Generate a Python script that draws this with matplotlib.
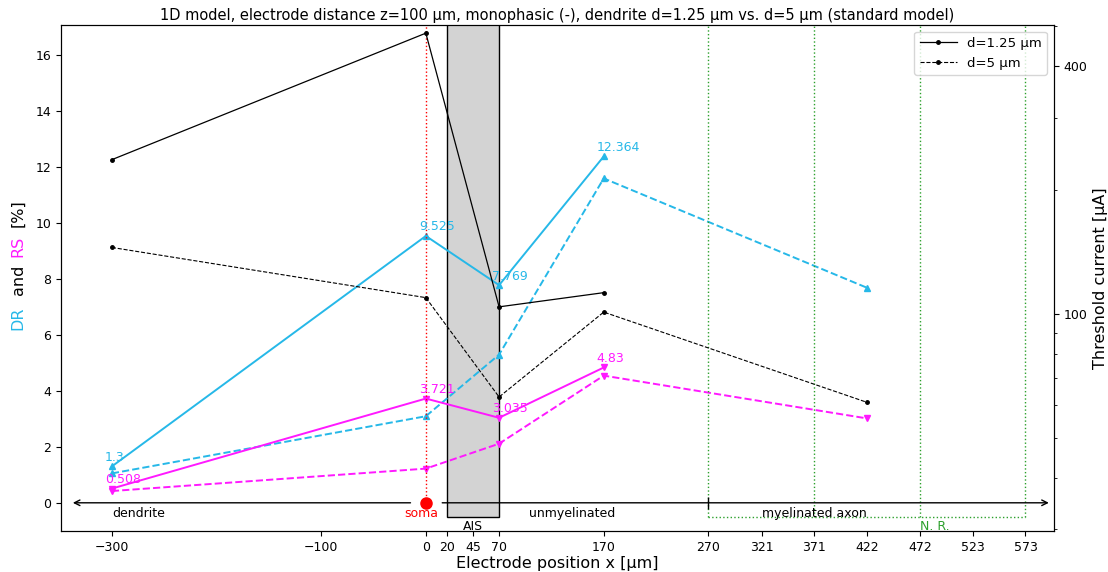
import matplotlib
matplotlib.use("Agg")
import matplotlib.pyplot as plt
from matplotlib.patches import Rectangle
from matplotlib.ticker import NullFormatter

# electrode positions [um]
x_full = [-300, 0, 70, 170, 422]
x_thin = [-300, 0, 70, 170]

# DR and RS [%]
dr_thin = [1.3, 9.525, 7.769, 12.364]
rs_thin = [0.508, 3.721, 3.035, 4.83]
dr_std = [1.05, 3.09, 5.29, 11.58, 7.67]
rs_std = [0.42, 1.22, 2.11, 4.54, 3.01]

# threshold current [uA]
thr_thin = [237, 481, 104, 112.6]
thr_std = [145, 109.5, 62.8, 101, 60.9]

xticks = [-300, -100, 0, 20, 45, 70, 170, 270, 321, 371, 422, 472, 523, 573]
node_lines = [270, 371, 472, 573]

cyan = '#26b8e8'
mag = '#ff19ff'
green = '#2ca02c'

fig = plt.figure(figsize=(11.08, 5.72), dpi=100)
ax = fig.add_axes([0.055, 0.072, 0.896, 0.884])
ax2 = ax.twinx()

ax.plot(x_thin, dr_thin, '-', color=cyan, marker='^', ms=5, lw=1.4)
ax.plot(x_full, dr_std, '--', color=cyan, marker='^', ms=5, lw=1.4)
ax.plot(x_thin, rs_thin, '-', color=mag, marker='v', ms=5, lw=1.4)
ax.plot(x_full, rs_std, '--', color=mag, marker='v', ms=5, lw=1.4)

for xv, yv in zip(x_thin, dr_thin):
    ax.annotate(str(yv), (xv, yv), xytext=(-5, 4), textcoords='offset points',
                color=cyan, fontsize=9)
for xv, yv in zip(x_thin, rs_thin):
    ax.annotate(str(yv), (xv, yv), xytext=(-5, 4), textcoords='offset points',
                color=mag, fontsize=9)

# soma, AIS, myelinated region
ax.plot([0, 0], [0, 17.05], ':', color='red', lw=1)
ax.plot([0], [0], 'o', color='red', ms=8)
ax.add_patch(Rectangle((20, -0.5), 50, 18, facecolor='lightgray', edgecolor='black', lw=1, zorder=1))
for xn in node_lines:
    ax.plot([xn, xn], [-0.5, 17.05], ':', color=green, lw=1)
ax.plot([270, 573], [-0.5, -0.5], ':', color=green, lw=1)

ax.annotate('', xy=(-340, 0), xytext=(-12, 0),
            arrowprops=dict(arrowstyle='->', lw=1, color='black'))
ax.annotate('', xy=(598, 0), xytext=(13, 0),
            arrowprops=dict(arrowstyle='->', lw=1, color='black'))
ax.plot([270], [0], '|', color='black', ms=8)

ax.text(-300, -0.38, 'dendrite', ha='left', va='center', fontsize=9)
ax.text(-4, -0.38, 'soma', ha='center', va='center', fontsize=9, color='red')
ax.text(140, -0.38, 'unmyelinated', ha='center', va='center', fontsize=9)
ax.text(371, -0.38, 'myelinated axon', ha='center', va='center', fontsize=9)
ax.text(45, -0.86, 'AIS', ha='center', va='center', fontsize=9)
ax.text(472, -0.86, 'N. R.', ha='left', va='center', fontsize=9, color=green)

ax.set_xlim(-348.7, 600)
ax.set_ylim(-1.0, 17.05)
ax.set_xticks(xticks)
ax.set_xticklabels([str(t).replace('-', '\u2212') for t in xticks])
ax.set_yticks(range(0, 17, 2))
ax.tick_params(labelsize=9)
ax.set_xlabel('Electrode position x [\u03bcm]', fontsize=11.5, labelpad=2)
ax.set_title('1D model, electrode distance z=100 \u03bcm, monophasic (-), '
             'dendrite d=1.25 \u03bcm vs. d=5 \u03bcm (standard model)', fontsize=10.5, pad=4)

# multicoloured left label
for txt, col, yy in [('DR', cyan, 0.421), ('and', 'black', 0.497),
                     ('RS', mag, 0.562), ('[%]', 'black', 0.629)]:
    ax.text(-0.043, yy, txt, color=col, rotation=90, fontsize=11.5,
            ha='center', va='center', transform=ax.transAxes)

# threshold current on log axis
ax2.plot(x_thin, thr_thin, '-', color='black', marker='.', ms=5, lw=0.9, label='d=1.25 \u03bcm')
ax2.plot(x_full, thr_std, '--', color='black', marker='.', ms=5, lw=0.8, label='d=5 \u03bcm')
ax2.set_yscale('log')
ax2.set_ylim(29.7, 503)
ax2.set_yticks([100, 400])
ax2.set_yticklabels(['100', '400'])
ax2.yaxis.set_minor_formatter(NullFormatter())
ax2.tick_params(labelsize=9)
ax2.set_ylabel('Threshold current [\u03bcA]', fontsize=11.5)
ax2.legend(loc='upper right', fontsize=9.5, handlelength=2.8)

fig.savefig('out.png', dpi=100)
